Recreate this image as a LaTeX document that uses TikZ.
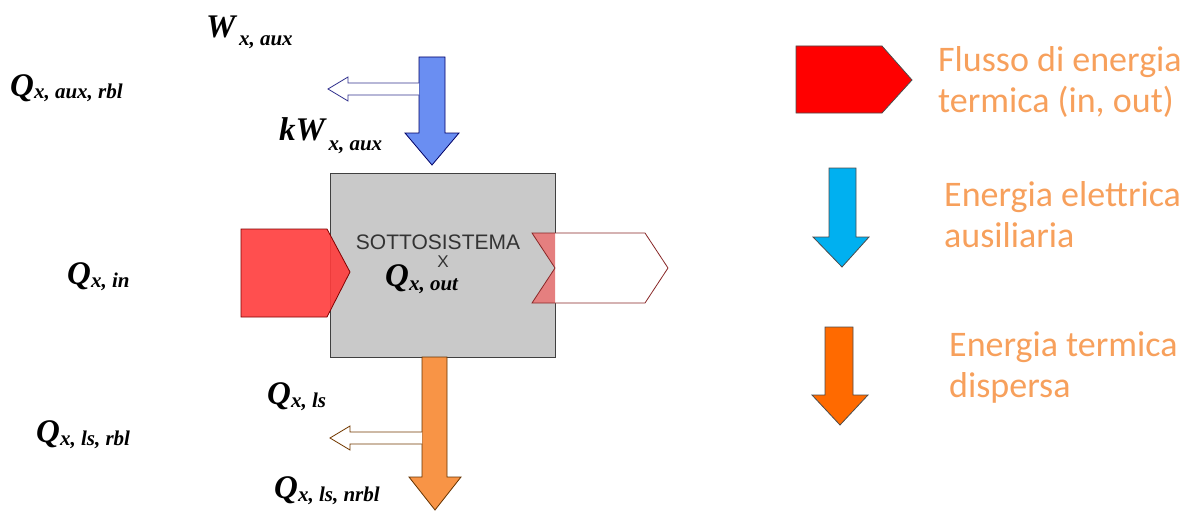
\documentclass[tikz,border=0pt]{standalone}
\usepackage{fontspec}
\setmainfont{Liberation Serif}
\newfontfamily\legf{Carlito}
\newfontfamily\boxf{Liberation Sans}
\definecolor{legcol}{HTML}{F7A05C}
\definecolor{bluemain}{HTML}{6A8EF2}
\definecolor{orgmain}{HTML}{F89446}
\definecolor{redin}{HTML}{FF3C3C}
\definecolor{legred}{HTML}{FF0000}
\definecolor{legblue}{HTML}{00B0F0}
\definecolor{legorg}{HTML}{FF6A00}
% #1 main symbol, #2 lowering of subscript, #3 subscript
\newcommand{\lbl}[3]{#1\raisebox{-#2pt}{\fontsize{21}{21}\selectfont #3}}
\begin{document}
\begin{tikzpicture}[x=1pt,y=-1pt,
  lab/.style={inner sep=0pt, anchor=base west, font=\fontsize{33}{33}\selectfont\bfseries\itshape},
  leg/.style={inner sep=0pt, align=left, anchor=west, text=legcol, font=\legf\fontsize{36}{41}\selectfont},
  boxst/.style={draw=black!75, line width=1.2pt, fill=black!21, inner sep=0pt},
  arrshape/.style={line width=0.8pt, line join=miter}]
\useasboundingbox (0,0) rectangle (1186,511);

% central box
\node[boxst, minimum width=225pt, minimum height=184pt, anchor=north west] (box) at (330,173) {};

% electric input (blue)
\draw[arrshape, draw=blue!40!black, fill=bluemain] (419,57) -- (445,57) -- (445,133) -- (459,133) -- (432,165) -- (405,133) -- (419,133) -- cycle;
\draw[arrshape, draw=blue!45!black!80, fill=white] (419,83) -- (348,83) -- (348,77) -- (328,89) -- (348,101) -- (348,95) -- (419,95);

% thermal input (red)
\draw[arrshape, draw=red!50!black, fill=redin, fill opacity=0.9] (241,229) -- (327,229) -- (350,272) -- (327,317) -- (241,317) -- cycle;

% thermal output
\fill[white] (532,233) -- (645,233) -- (668,268) -- (645,303) -- (532,303) -- (555,268) -- cycle;
\begin{scope}
\clip (500,220) rectangle (555,320);
\fill[red!80!black, fill opacity=0.5] (532,233) -- (645,233) -- (668,268) -- (645,303) -- (532,303) -- (555,268) -- cycle;
\end{scope}
\draw[arrshape, draw=red!45!black!85] (532,233) -- (645,233) -- (668,268) -- (645,303) -- (532,303) -- (555,268) -- cycle;

% losses (orange)
\draw[arrshape, draw=orange!40!black, fill=orgmain] (422,357) -- (447,357) -- (447,477) -- (461,477) -- (435,510) -- (409,477) -- (422,477) -- cycle;
\draw[arrshape, draw=orange!45!black, fill=white] (422,432) -- (350,432) -- (350,426) -- (330,438) -- (350,450) -- (350,444) -- (422,444);

% box texts
\node[inner sep=0pt, text=black!80, font=\boxf\fontsize{21}{21}\selectfont] (title) at (438,242) {SOTTOSISTEMA};
\node[inner sep=0pt, text=black!80, font=\boxf\fontsize{17}{17}\selectfont] (xx) at (443,262) {X};
\node[lab] (qout) at (385,286) {\lbl{Q}{4}{x, out}};

% labels
\node[lab] (waux) at (206,38) {\lbl{W}{8}{\,x, aux}};
\node[lab] (qauxrbl) at (10,96) {\lbl{Q}{2}{x, aux, rbl}};
\node[lab] (kwaux) at (279,140) {\lbl{kW}{10}{\,x, aux}};
\node[lab] (qin) at (67,284) {\lbl{Q}{3}{x, in}};
\node[lab] (qls) at (267,404) {\lbl{Q}{3}{x, ls}};
\node[lab] (qlsrbl) at (36,442) {\lbl{Q}{3}{x, ls, rbl}};
\node[lab] (qlsnrbl) at (274,498) {\lbl{Q}{3}{x, ls, nrbl}};

% legend
\draw[arrshape, draw=black!70, fill=legred] (796,46) -- (882,46) -- (912,80) -- (882,113) -- (796,113) -- cycle;
\draw[arrshape, draw=black!70, fill=legblue] (829,168) -- (856,168) -- (856,237) -- (869,237) -- (842,267) -- (813,237) -- (829,237) -- cycle;
\draw[arrshape, draw=black!70, fill=legorg] (825,327) -- (853,327) -- (853,395) -- (868,395) -- (840,425) -- (812,395) -- (825,395) -- cycle;
\node[leg] (l1) at (938,82) {Flusso di energia\\termica (in, out)};
\node[leg] (l2) at (944,215) {Energia elettrica\\ausiliaria};
\node[leg] (l3) at (949,368) {Energia termica\\dispersa};
\end{tikzpicture}
\end{document}
